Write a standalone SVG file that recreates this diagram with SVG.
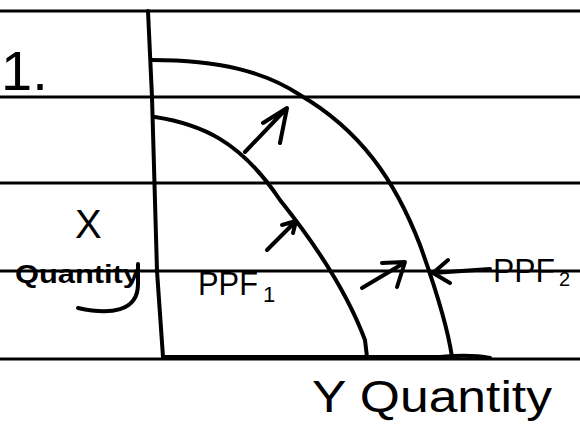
<svg xmlns="http://www.w3.org/2000/svg" width="580" height="430" viewBox="0 0 580 430">
<style>
.rule{stroke:#000;stroke-width:3;fill:none}
.ink{stroke:#000;stroke-width:4;fill:none;stroke-linecap:round;stroke-linejoin:round}
.txt{font-family:"Liberation Sans",Arial,sans-serif;fill:#000}
</style>
<rect width="580" height="430" fill="#fff"/>
<g id="paper">
<line class="rule" x1="0" y1="11" x2="580" y2="11"/>
<line class="rule" x1="0" y1="97" x2="580" y2="97"/>
<line class="rule" x1="0" y1="183" x2="580" y2="183"/>
<line class="rule" x1="0" y1="271" x2="580" y2="271"/>
<line class="rule" x1="0" y1="359" x2="580" y2="359"/>
</g>
<g id="axes">
<path class="ink" d="M148,11 Q150,50 152,97 L157,271 L163,357"/>
<path class="ink" d="M163,357 L440,357 Q470,354 490,358"/>
</g>
<g id="ppf1">
<path class="ink" d="M155,117 C200,124 240,140 280,200 C320,250 350,300 365,340 L367,357"/>
</g>
<g id="ppf2">
<path class="ink" d="M152,60 C220,60 265,72 300,95 C360,130 395,180 420,245 C438,295 448,330 452,357"/>
</g>
<g id="connectors">
<path class="ink" d="M245,152 L286,109 M263,123 L287,108 L280,143"/>
<path class="ink" d="M267,250 L295,222 M282,225 L296,221 L293,233"/>
<path class="ink" d="M362,288 L404,263 M382,263 L405,262 L397,287"/>
<path class="ink" d="M490,269 L433,273 M448,260 L433,273 L450,283"/>
</g>
<g id="label-1">
<text class="txt" x="1" y="90" font-size="56">1.</text>
</g>
<g id="x-label">
<text class="txt" x="75" y="238" font-size="40">X</text>
<text class="txt" x="15" y="283" font-size="26" font-weight="bold" textLength="125" lengthAdjust="spacingAndGlyphs">Quantity</text>
<path class="ink" d="M78,308 C110,315 138,312 138,284 L138,264"/>
</g>
<g id="ppf1-label">
<text class="txt" x="198" y="295" font-size="34" textLength="60" lengthAdjust="spacingAndGlyphs">PPF</text>
<text class="txt" x="263" y="302" font-size="22">1</text>
</g>
<g id="ppf2-label">
<text class="txt" x="493" y="282" font-size="34" textLength="62" lengthAdjust="spacingAndGlyphs">PPF</text>
<text class="txt" x="559" y="286" font-size="20">2</text>
</g>
<g id="y-label">
<text class="txt" x="312" y="412" font-size="44" textLength="240" lengthAdjust="spacingAndGlyphs">Y Quantity</text>
</g>
</svg>
